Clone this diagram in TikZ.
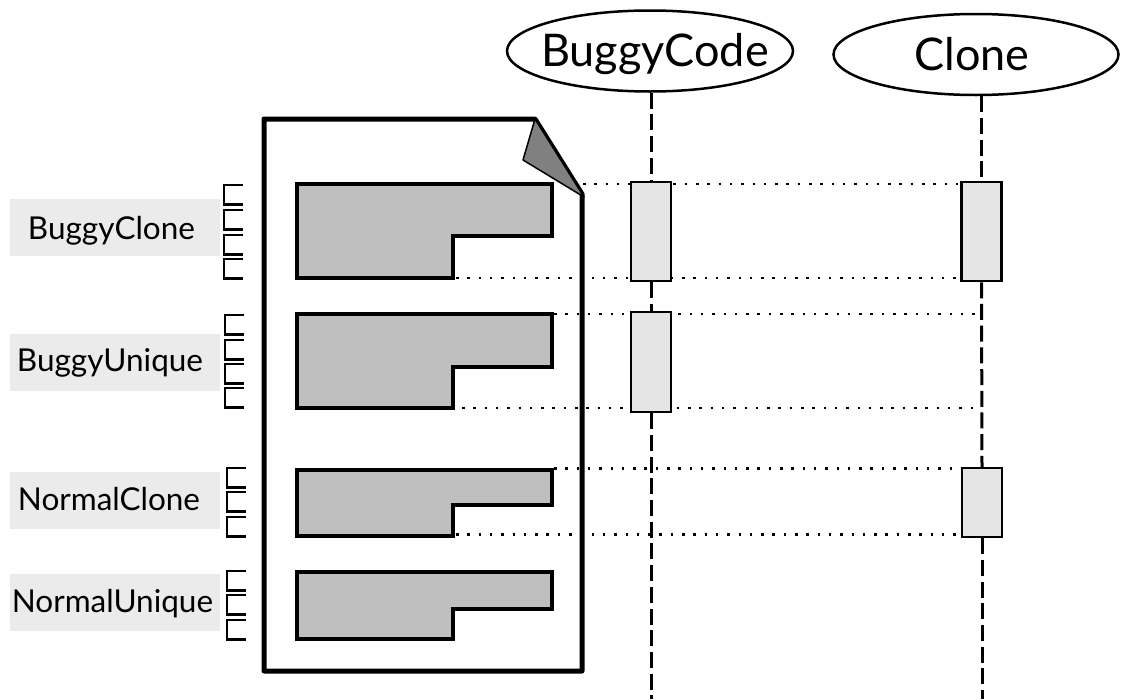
\documentclass[tikz,border=0pt]{standalone}
\usepackage{fontspec}
\setmainfont{Lato}
\usetikzlibrary{shapes.geometric}
\tikzset{
	block/.style    = {draw, line width=2.5pt, rectangle, fill=black!10, inner sep=0pt,
		minimum width = 40pt},
	tagbox/.style   = {rectangle, fill=black!8, inner sep=0pt, text depth=6pt,
		minimum width = 210pt, minimum height = 57pt, font=\fontsize{31.5}{36}\selectfont},
	lifehead/.style = {draw, line width=2.5pt, ellipse, inner sep=0pt, text height=40pt, text depth=8.5pt,
		font=\fontsize{45}{50}\selectfont},
	lifeline/.style = {line width=3pt, dash pattern=on 16pt off 5.7pt},
	dotline/.style  = {line width=2.5pt, dash pattern=on 2.5pt off 8.8pt},
	codeblock/.style= {draw, line width=4.5pt, fill=black!25, miter limit=4},
	tick/.style     = {draw, line width=2.5pt},
}
\begin{document}
\begin{tikzpicture}[ x=1pt, y=-1pt ]                %<--one unit is one pixel of the page

    \useasboundingbox (0,0) rectangle (1122,699);

    \draw%-----------------------------------------------------------------------------------------
    	%Drawing the ends of the dotted lines:
    	node[shape=coordinate][](dot1a) at (583,184){}
    	node[shape=coordinate][](dot1b) at (961,184){}
    	node[shape=coordinate][](dot2a) at (456,278){}
    	node[shape=coordinate][](dot2b) at (961,278){}
    	node[shape=coordinate][](dot3a) at (554,314){}
    	node[shape=coordinate][](dot3b) at (975,314){}
    	node[shape=coordinate][](dot4a) at (462,408){}
    	node[shape=coordinate][](dot4b) at (975,408){}
    	node[shape=coordinate][](dot5a) at (554,468.5){}
    	node[shape=coordinate][](dot5b) at (962,468.5){}
    	node[shape=coordinate][](dot6a) at (456,534.5){}
    	node[shape=coordinate][](dot6b) at (962,534.5){}
    	%Drawing the ends of the lifelines:
    	node[shape=coordinate][](endBuggy) at (651,699){}
    	node[shape=coordinate][](endClone) at (982,699){}
    ;%---------------------------------------------------------------------------------------------

    %Joining the dots
  	\draw[dotline](dot1a) -- (dot1b);
  	\draw[dotline](dot2a) -- (dot2b);
  	\draw[dotline](dot3a) -- (dot3b);
  	\draw[dotline](dot4a) -- (dot4b);
  	\draw[dotline](dot5a) -- (dot5b);
  	\draw[dotline](dot6a) -- (dot6b);

    %Drawing the page with its fold
    \draw[line width=5pt, line join=round] (535,119) -- (264,119) -- (264,671) -- (582,671) -- (582,194) -- cycle;
    \draw[line width=1.5pt, fill=black!50, line join=round] (535,119) -- (523,160) -- (584,197) -- cycle;

    %Drawing the code blocks
    \foreach \top/\notch/\bottom in {184/236/278, 314/367/408, 470/505/536, 572/609/639}
    	\draw[codeblock] (297,\top) -- (552,\top) -- (552,\notch) -- (453,\notch) -- (453,\bottom) -- (297,\bottom) -- cycle;

    %Drawing the small ticks
    \foreach \x/\top in {224/185, 224/210, 224/235, 224/259,
                         225/315, 225/340, 225/364, 225/388,
                         227/468, 227/492, 227/517,
                         227/571, 227/595, 227/620}
    	\draw[tick] (\x+19,\top) -- (\x,\top) -- (\x,\top+19.5) -- (\x+19,\top+19.5);

    \draw%-----------------------------------------------------------------------------------------
     	%Drawing the Heads:
    	node(buggy) at (650,51) [lifehead, minimum width=286pt, minimum height=81pt] {\makebox[0pt]{\kern10pt BuggyCode}}
    	node(clone) at (976,54.5) [lifehead, minimum width=285pt, minimum height=81pt] {\makebox[0pt]{Clone\kern8pt}}
     	%Drawing the Boxes:
     	node(boxB1) at (651,231.5) [block, minimum height=99pt] {}
     	node(boxB2) at (651,362) [block, minimum height=100pt] {}
     	node(boxC1) at (981.5,231.5) [block, minimum height=99pt] {}
     	node(boxC2) at (982,502.5) [block, minimum height=69pt] {}
    	%Drawing the Tags:
    	node(tagBC) at (115,227.5) [tagbox, text height=29.5pt] {BuggyClone\kern7pt}
    	node(tagBU) at (115,362) [tagbox, text height=24.5pt] {BuggyUnique\kern10pt}
    	node(tagNC) at (115,500) [tagbox, text height=26pt] {NormalClone\kern12pt}
    	node(tagNU) at (115,602.5) [tagbox, text height=26pt] {NormalUnique\kern5pt}
    ;%---------------------------------------------------------------------------------------------

    %Joining the Boxes
  	\draw[lifeline](buggy.south -| boxB1.north) -- (boxB1.north);
  	\draw[lifeline](boxB1.south) -- (boxB2.north);
  	\draw[lifeline](boxB2.south) -- (endBuggy);
  	\draw[lifeline](clone.south -| boxC1.north) -- (boxC1.north);
  	\draw[lifeline](boxC1.south) -- (boxC2.north);
  	\draw[lifeline](boxC2.south) -- (endClone);
  \end{tikzpicture}
\end{document}
